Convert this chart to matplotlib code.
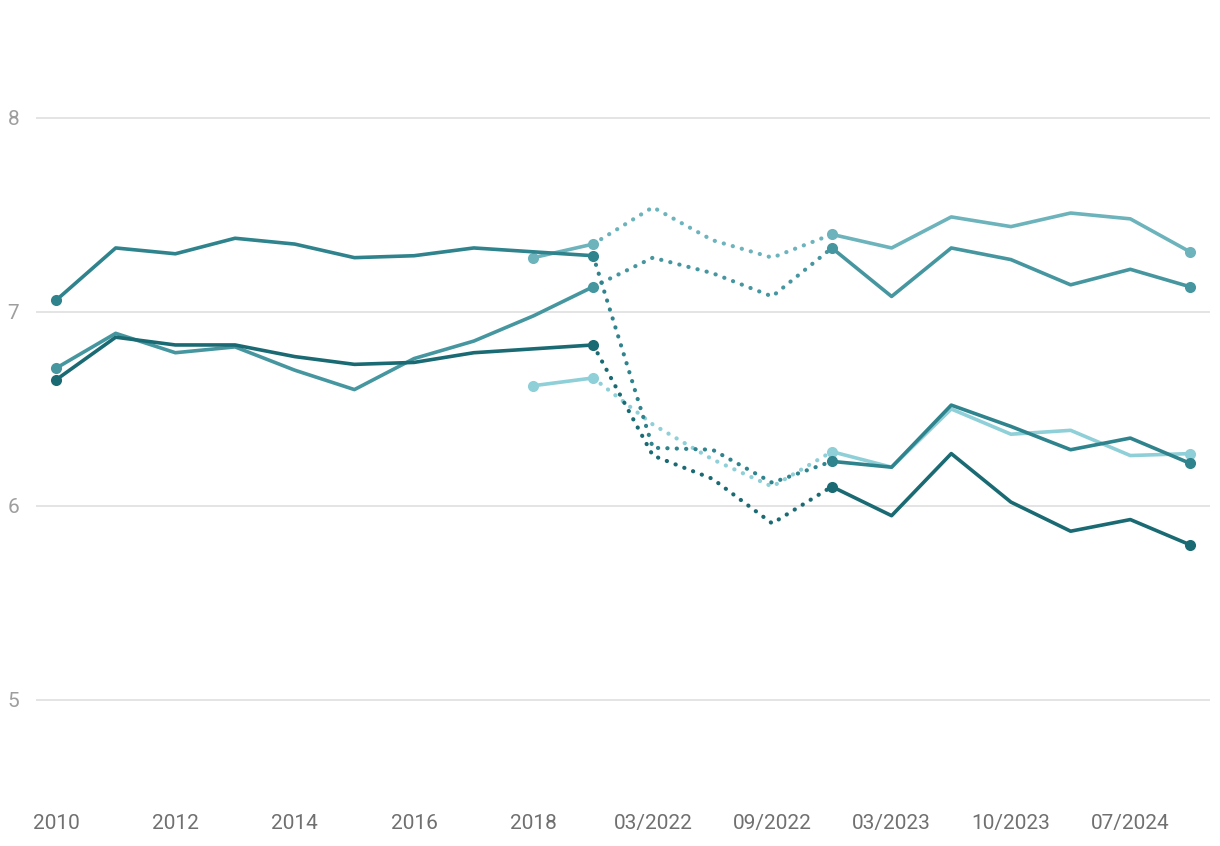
import matplotlib.pyplot as plt
import numpy as np

plt.rcParams['font.family'] = ['Roboto', 'DejaVu Sans']

# 20 periods: 2010..2019 yearly, then survey waves 2022-2024
tick_labels = ["2010", "2012", "2014", "2016", "2018",
               "03/2022", "09/2022", "03/2023", "10/2023", "07/2024"]
n_points = 20

# each series: values per index (None = no data)
series_a = [7.06, 7.33, 7.30, 7.38, 7.35, 7.28, 7.29, 7.33, 7.31, 7.29,
            6.30, 6.29, 6.12, 6.23, 6.20, 6.52, 6.41, 6.29, 6.35, 6.22]
series_b = [None] * 8 + [7.28, 7.35,
            7.54, 7.37, 7.28, 7.40, 7.33, 7.49, 7.44, 7.51, 7.48, 7.31]
series_c = [6.71, 6.89, 6.79, 6.82, 6.70, 6.60, 6.76, 6.85, 6.98, 7.13,
            7.28, 7.20, 7.08, 7.33, 7.08, 7.33, 7.27, 7.14, 7.22, 7.13]
series_d = [6.65, 6.87, 6.83, 6.83, 6.77, 6.73, 6.74, 6.79, 6.81, 6.83,
            6.26, 6.14, 5.91, 6.10, 5.95, 6.27, 6.02, 5.87, 5.93, 5.80]
series_e = [None] * 8 + [6.62, 6.66,
            6.42, 6.24, 6.10, 6.28, 6.20, 6.50, 6.37, 6.39, 6.26, 6.27]

colors = {
    "a": "#2f838c",
    "b": "#6cb3bc",
    "c": "#4696a0",
    "d": "#1a6a73",
    "e": "#8ecfd8",
}

# break between historic yearly data (solid) and the gap period (dotted)
break_start, break_end = 9, 13

fig = plt.figure(figsize=(12.2, 8.46), dpi=100)
ax = fig.add_axes([36 / 1220, 46 / 846, 1174 / 1220, 754 / 846])

x = np.arange(n_points)


def draw(vals, color, z):
    v = np.array([np.nan if s is None else s for s in vals], dtype=float)
    first = int(np.argmax(~np.isnan(v)))
    # solid first part
    ax.plot(x[first:break_start + 1], v[first:break_start + 1], color=color,
            lw=2.6, solid_capstyle="round", zorder=z)
    # dotted gap
    ax.plot(x[break_start:break_end + 1], v[break_start:break_end + 1],
            color=color, lw=3.0, linestyle=(0, (0.05, 2.2)),
            dash_capstyle="round", zorder=z)
    # solid second part
    ax.plot(x[break_end:], v[break_end:], color=color, lw=2.6,
            solid_capstyle="round", zorder=z)
    idx = [first, break_start, break_end, n_points - 1]
    ax.plot(x[idx], v[idx], "o", color=color, ms=8, mec="none", zorder=z + 0.5)


draw(series_e, colors["e"], 2)
draw(series_b, colors["b"], 3)
draw(series_c, colors["c"], 4)
draw(series_a, colors["a"], 5)
draw(series_d, colors["d"], 6)

ax.set_xlim(-0.335, 19.335)
ax.set_ylim(4.4845, 8.371)
ax.set_yticks([5, 6, 7, 8])
ax.set_yticklabels(["5", "6", "7", "8"])
ax.set_xticks(np.arange(0, n_points, 2))
ax.set_xticklabels(tick_labels)

ax.grid(axis="y", color="#e2e2e2", lw=1.3)
ax.set_axisbelow(True)
for s in ax.spines.values():
    s.set_visible(False)
ax.tick_params(axis="both", length=0)
ax.tick_params(axis="y", labelsize=15, labelcolor="#9e9e9e", pad=12)
ax.tick_params(axis="x", labelsize=15, labelcolor="#707070", pad=10)

fig.savefig("out.png", dpi=100)
